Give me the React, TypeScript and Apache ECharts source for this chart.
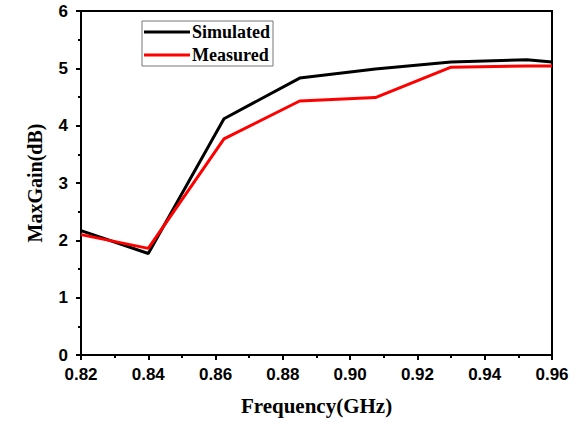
import React, { useEffect, useRef } from "react";
import * as echarts from "echarts";

const freq = [0.82, 0.84, 0.8625, 0.885, 0.9075, 0.93, 0.9525, 0.96];
const simulated = [2.17, 1.77, 4.12, 4.83, 4.99, 5.11, 5.15, 5.11];
const measured = [2.1, 1.86, 3.77, 4.43, 4.49, 5.02, 5.04, 5.04];
const seriesNames = ["Simulated", "Measured"];

const tickFont = { fontFamily: "Liberation Sans, Arial, sans-serif", fontWeight: "bold" as const, fontSize: 17, color: "#000" };
const titleFont = { fontFamily: "Liberation Serif, Times New Roman, serif", fontWeight: "bold" as const, fontSize: 20, color: "#000" };

export default function App() {
  const ref = useRef<HTMLDivElement>(null);
  useEffect(() => {
    if (!ref.current) return;
    const chart = echarts.init(ref.current, null, { renderer: "svg" });
    const axisLine = { show: true, onZero: false, lineStyle: { color: "#000", width: 2 } };
    chart.setOption({
      animation: false,
      backgroundColor: "#fff",
      grid: { left: 81, right: 29, top: 11, bottom: 65, show: true, borderColor: "#000", borderWidth: 2 },
      legend: {
        left: 142,
        top: 21,
        orient: "vertical",
        data: seriesNames,
        icon: "rect",
        itemWidth: 46,
        itemHeight: 3,
        itemGap: 5,
        padding: [2, 3, 2, 2],
        borderColor: "#777",
        borderWidth: 1,
        textStyle: { ...titleFont, fontSize: 18, padding: [0, 0, 0, -3] },
      },
      xAxis: {
        type: "value",
        min: 0.82,
        max: 0.96,
        interval: 0.02,
        name: "Frequency(GHz)",
        nameLocation: "middle",
        nameGap: 40,
        nameTextStyle: { ...titleFont, fontSize: 21 },
        axisLine,
        axisTick: { show: true, inside: false, length: 5, lineStyle: { color: "#000", width: 2 } },
        minorTick: { show: true, splitNumber: 2, length: 3, lineStyle: { color: "#000", width: 2 } },
        splitLine: { show: false },
        axisLabel: { ...tickFont, margin: 11, formatter: (v: number) => v.toFixed(2) },
      },
      yAxis: {
        type: "value",
        min: 0,
        max: 6,
        interval: 1,
        name: "MaxGain(dB)",
        nameLocation: "middle",
        nameGap: 36,
        nameTextStyle: titleFont,
        axisLine,
        axisTick: { show: true, inside: false, length: 5, lineStyle: { color: "#000", width: 2 } },
        minorTick: { show: true, splitNumber: 2, length: 3, lineStyle: { color: "#000", width: 2 } },
        splitLine: { show: false },
        axisLabel: { ...tickFont, margin: 13 },
      },
      series: [
        {
          name: seriesNames[0],
          type: "line",
          data: freq.map((f, i) => [f, simulated[i]]),
          symbol: "none",
          lineStyle: { color: "#000", width: 3 },
          itemStyle: { color: "#000" },
          z: 2,
        },
        {
          name: seriesNames[1],
          type: "line",
          data: freq.map((f, i) => [f, measured[i]]),
          symbol: "none",
          lineStyle: { color: "#ff0000", width: 3 },
          itemStyle: { color: "#ff0000" },
          z: 3,
        },
      ],
    });
    return () => chart.dispose();
  }, []);
  return <div ref={ref} style={{ width: 581, height: 421, position: "absolute", left: 0, top: 0 }} />;
}
